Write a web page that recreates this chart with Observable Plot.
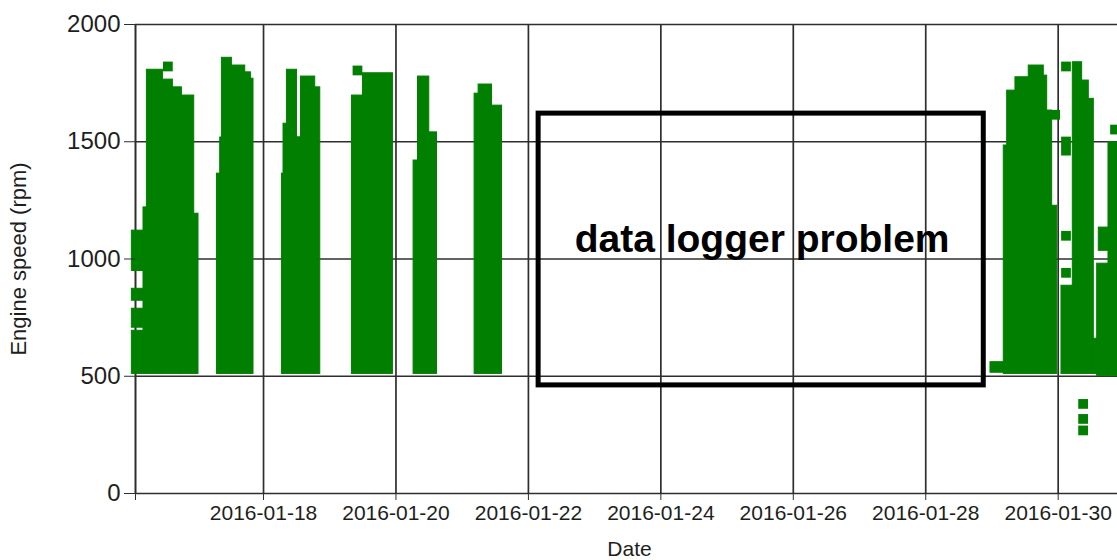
<!DOCTYPE html>
<html>
<head>
<meta charset="utf-8">
<script src="https://cdn.jsdelivr.net/npm/d3@7"></script>
<script src="https://cdn.jsdelivr.net/npm/@observablehq/plot@0.6"></script>
<style>
  html, body { margin: 0; padding: 0; background: #fff; overflow: hidden; }
  svg { display: block; }
</style>
</head>
<body>
<div id="chart"></div>
<script>
// ---- data ----
// visible x range of the plot
const xDomainLabels = ["2016-01-16 01:36", "2016-01-30 21:30"];
// x tick dates
const tickLabels = ["2016-01-18", "2016-01-20", "2016-01-22", "2016-01-24", "2016-01-26", "2016-01-28", "2016-01-30"];
// y ticks (rpm)
const rpmTicks = [0, 500, 1000, 1500, 2000];

// dense clouds of engine-speed samples, read as time slices: start, end, lowest and highest rpm
const sliceStart = [
  "2016-01-16 00:17", "2016-01-16 00:17", "2016-01-16 00:17", "2016-01-16 00:17",
  "2016-01-16 04:30", "2016-01-16 05:44", "2016-01-16 11:32", "2016-01-16 15:09", "2016-01-16 18:25", "2016-01-16 22:53",
  "2016-01-17 07:07", "2016-01-17 08:18", "2016-01-17 08:55", "2016-01-17 12:32", "2016-01-17 17:22", "2016-01-17 19:26",
  "2016-01-18 06:40", "2016-01-18 07:15", "2016-01-18 08:29", "2016-01-18 12:07", "2016-01-18 13:34", "2016-01-18 18:44",
  "2016-01-19 08:03", "2016-01-19 12:02",
  "2016-01-20 06:23", "2016-01-20 07:59", "2016-01-20 12:04",
  "2016-01-21 04:30", "2016-01-21 05:57", "2016-01-21 10:49",
  "2016-01-28 23:28", "2016-01-29 04:17", "2016-01-29 05:31", "2016-01-29 08:31", "2016-01-29 13:20", "2016-01-29 18:47", "2016-01-29 20:01", "2016-01-29 21:49",
  "2016-01-30 01:12", "2016-01-30 05:18", "2016-01-30 08:41", "2016-01-30 11:06", "2016-01-30 12:55",
  "2016-01-30 14:08", "2016-01-30 14:43", "2016-01-30 18:14"
];
const sliceEnd = [
  "2016-01-16 04:30", "2016-01-16 04:30", "2016-01-16 04:30", "2016-01-16 04:30",
  "2016-01-16 05:44", "2016-01-16 11:32", "2016-01-16 15:09", "2016-01-16 18:25", "2016-01-16 22:53", "2016-01-17 00:26",
  "2016-01-17 08:18", "2016-01-17 08:55", "2016-01-17 12:32", "2016-01-17 17:22", "2016-01-17 19:26", "2016-01-17 20:22",
  "2016-01-18 07:15", "2016-01-18 08:29", "2016-01-18 12:07", "2016-01-18 13:34", "2016-01-18 18:44", "2016-01-18 20:34",
  "2016-01-19 12:02", "2016-01-19 22:54",
  "2016-01-20 07:59", "2016-01-20 12:04", "2016-01-20 14:52",
  "2016-01-21 05:57", "2016-01-21 10:49", "2016-01-21 14:26",
  "2016-01-29 04:54", "2016-01-29 05:31", "2016-01-29 08:31", "2016-01-29 13:20", "2016-01-29 18:47", "2016-01-29 20:01", "2016-01-29 21:49", "2016-01-29 23:38",
  "2016-01-30 05:18", "2016-01-30 08:41", "2016-01-30 11:06", "2016-01-30 12:55", "2016-01-30 14:08",
  "2016-01-30 18:14", "2016-01-30 18:21", "2016-01-30 21:30"
];
const sliceLow = [
  949, 822, 707, 510,
  510, 510, 510, 510, 510, 510,
  510, 510, 510, 510, 510, 510,
  510, 510, 510, 510, 510, 510,
  510, 510,
  510, 510, 510,
  510, 510, 510,
  515, 510, 510, 510, 510, 510, 510, 510,
  510, 510, 510, 510, 510,
  500, 1035, 500
];
const sliceHigh = [
  1121, 873, 788, 694,
  1220, 1807, 1765, 1732, 1697, 1193,
  1364, 1518, 1858, 1825, 1796, 1769,
  1364, 1577, 1807, 1519, 1778, 1732,
  1697, 1792,
  1420, 1778, 1540,
  1705, 1744, 1654,
  560, 1484, 1718, 1775, 1825, 1782, 1633, 1227,
  886, 1839, 1761, 1683, 660,
  980, 1134, 1498
];

// isolated samples (square markers)
const pointTime = [
  "2016-01-16 13:20", "2016-01-19 10:03", "2016-01-29 22:54",
  "2016-01-30 02:50", "2016-01-30 02:50", "2016-01-30 02:50", "2016-01-30 02:50", "2016-01-30 02:50",
  "2016-01-30 09:02", "2016-01-30 09:02", "2016-01-30 09:02",
  "2016-01-30 20:36"
];
const pointRpm = [
  1821, 1804, 1615,
  1821, 1501, 1462, 1099, 941,
  382, 318, 269,
  1552
];

// annotation box and its text
const boxStart = ["2016-01-22 03:42"];
const boxEnd = ["2016-01-28 21:02"];
const boxLow = [461];
const boxHigh = [1620];
const noteText = ["data logger problem"];
const noteTime = ["2016-01-25 12:41"];
const noteRpm = [1081];

const yTitle = "Engine speed (rpm)";
const xTitle = "Date";

// ---- build tables ----
const parseT = d3.utcParse("%Y-%m-%d %H:%M");
const parseD = d3.utcParse("%Y-%m-%d");
const xDomain = xDomainLabels.map(parseT);
const tickDates = tickLabels.map(parseD);
const slices = sliceStart.map((s, i) => ({start: parseT(s), end: parseT(sliceEnd[i]), low: sliceLow[i], high: sliceHigh[i]}));
const points = pointTime.map((t, i) => ({time: parseT(t), rpm: pointRpm[i]}));
const box = boxStart.map((s, i) => ({start: parseT(s), end: parseT(boxEnd[i]), low: boxLow[i], high: boxHigh[i]}));
const notes = noteText.map((t, i) => ({text: t, time: parseT(noteTime[i]), rpm: noteRpm[i]}));

const green = "#007f00";
const lineColor = "#2e2e2e";

const chart = Plot.plot({
  width: 1117,
  height: 560,
  marginLeft: 135,
  marginRight: 0,
  marginTop: 24,
  marginBottom: 67,
  x: {type: "utc", domain: xDomain, label: null},
  y: {domain: [0, 2000], label: null},
  style: {fontFamily: "'Liberation Sans', Arial, sans-serif", fontSize: "21px", color: "#1e1e1e", background: "#fff"},
  marks: [
    Plot.gridX(tickDates, {stroke: lineColor, strokeOpacity: 1, strokeWidth: 1.7}),
    Plot.gridY(rpmTicks, {stroke: lineColor, strokeOpacity: 1, strokeWidth: 1.7}),
    Plot.ruleX([xDomain[0]], {stroke: lineColor, strokeWidth: 2}),
    Plot.rect(slices, {x1: "start", x2: "end", y1: "low", y2: "high", fill: green, stroke: green, strokeWidth: 1}),
    Plot.dot(points, {x: "time", y: "rpm", symbol: "square", r: 5.5, fill: green, stroke: "none"}),
    Plot.rect(box, {x1: "start", x2: "end", y1: "low", y2: "high", fill: "none", stroke: "#000", strokeWidth: 5}),
    Plot.text(notes, {x: "time", y: "rpm", text: "text", fontSize: 39, fontWeight: "bold", fill: "#000"}),
    Plot.axisX(tickDates, {tickFormat: d3.utcFormat("%Y-%m-%d"), tickSize: 7, tickPadding: 5, fontSize: 21, stroke: lineColor, label: null}),
    Plot.axisX([xDomain[0]], {tickFormat: () => "", tickSize: 7, stroke: lineColor, label: null}),
    Plot.axisY(rpmTicks, {tickFormat: d3.format("d"), tickSize: 11, tickPadding: 4, fontSize: 24, stroke: lineColor, label: null}),
    Plot.text([yTitle], {text: d => d, frameAnchor: "left", dx: -117, rotate: -90, textAnchor: "middle", lineAnchor: "middle", fontSize: 22}),
    Plot.text([xTitle], {text: d => d, frameAnchor: "bottom", dy: 56, dx: 3, textAnchor: "middle", lineAnchor: "middle", fontSize: 21})
  ]
});
document.getElementById("chart").appendChild(chart);
</script>
</body>
</html>
